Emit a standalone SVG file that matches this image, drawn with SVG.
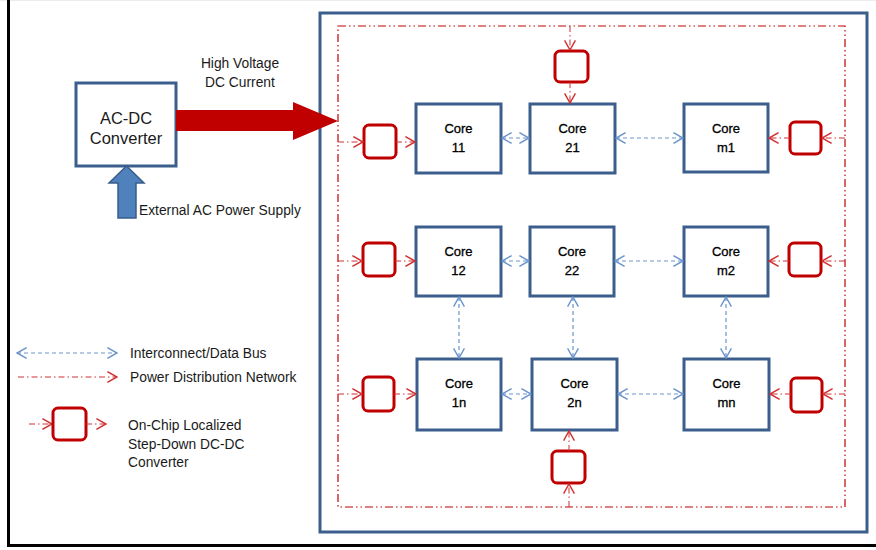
<svg xmlns="http://www.w3.org/2000/svg" width="876" height="550" viewBox="0 0 876 550">
  <defs>
    <style>
      text { font-family: "Liberation Sans", Arial, sans-serif; fill: #1a1a1a; }
      .core rect { fill: #fff; stroke: #3B5E8C; stroke-width: 3; }
      .core text { font-size: 13px; text-anchor: middle; fill: #000; stroke: #000; stroke-width: 0.3; }
      .conv { fill: #fff; stroke: #C00000; stroke-width: 3; }
      .pwr { fill: none; stroke: #C00000; stroke-width: 1.2; stroke-dasharray: 8 3 1.5 3 1.5 3; }
      .pwr-a { fill: none; stroke: #D03030; stroke-width: 1; stroke-dasharray: 6 3 1.5 3; marker-end: url(#redHead); }
      .bus { fill: none; stroke: #6A95CC; stroke-width: 1.2; stroke-dasharray: 4 3; marker-start: url(#blueHead); marker-end: url(#blueHead); }
      .lbl { font-size: 13.8px; }
    </style>
    <marker id="redHead" markerUnits="userSpaceOnUse" markerWidth="12" markerHeight="12" viewBox="0 0 10 10" refX="9" refY="5" orient="auto">
      <path d="M1,0.5 L9,5 L1,9.5" fill="none" stroke="#D03030" stroke-width="1.2"/>
    </marker>
    <marker id="blueHead" markerUnits="userSpaceOnUse" markerWidth="12" markerHeight="12" viewBox="0 0 10 10" refX="9" refY="5" orient="auto-start-reverse">
      <path d="M1,0.5 L9,5 L1,9.5" fill="none" stroke="#6A95CC" stroke-width="1.2"/>
    </marker>
  </defs>

  <rect width="876" height="550" fill="#fff"/>
  <line x1="0" y1="0.5" x2="876" y2="0.5" stroke="#ececec"/>
  <!-- page frame -->
  <path d="M8.5,0 V545.5 H876" fill="none" stroke="#000" stroke-width="3"/>

  <!-- chip outline -->
  <rect id="chip" x="320" y="13" width="547" height="519" fill="none" stroke="#3B5E8C" stroke-width="3"/>
  <!-- power distribution ring -->
  <rect id="ring" class="pwr" x="338" y="26" width="507" height="481"/>

  <!-- AC-DC converter -->
  <g id="acdc">
    <rect x="76" y="83" width="100" height="83" fill="#fff" stroke="#3B5E8C" stroke-width="3"/>
    <text x="126" y="124" font-size="16.5" text-anchor="middle">AC-DC</text>
    <text x="126" y="144" font-size="16.5" text-anchor="middle">Converter</text>
  </g>

  <!-- high-voltage feed -->
  <g id="hv-feed">
    <polygon points="176,110 293,110 293,102 338,121 293,140 293,131 176,131" fill="#C00000"/>
    <text class="lbl" x="240" y="68" text-anchor="middle">High Voltage</text>
    <text class="lbl" x="240" y="87" text-anchor="middle">DC Current</text>
  </g>

  <!-- external AC input -->
  <g id="ac-in">
    <polygon points="126.5,166 144,183 136,183 136,218 118,218 118,183 109,183" fill="#4F81BD" stroke="#385D8A" stroke-width="1.5"/>
    <text class="lbl" x="139" y="215">External AC Power Supply</text>
  </g>

  <!-- cores -->
  <g id="core11" class="core"><rect x="416" y="104" width="85" height="69"/><text x="458.5" y="133">Core</text><text x="458.5" y="152">11</text></g>
  <g id="core21" class="core"><rect x="530" y="104" width="85" height="69"/><text x="572.5" y="133">Core</text><text x="572.5" y="152">21</text></g>
  <g id="corem1" class="core"><rect x="684" y="104" width="84" height="68"/><text x="726" y="133">Core</text><text x="726" y="152">m1</text></g>
  <g id="core12" class="core"><rect x="416" y="227" width="85" height="69"/><text x="458.5" y="256">Core</text><text x="458.5" y="275">12</text></g>
  <g id="core22" class="core"><rect x="530" y="227" width="84" height="69"/><text x="572" y="256">Core</text><text x="572" y="275">22</text></g>
  <g id="corem2" class="core"><rect x="684" y="227" width="84" height="69"/><text x="726" y="256">Core</text><text x="726" y="275">m2</text></g>
  <g id="core1n" class="core"><rect x="417" y="359" width="84" height="71"/><text x="459" y="388">Core</text><text x="459" y="407">1n</text></g>
  <g id="core2n" class="core"><rect x="532" y="359" width="85" height="71"/><text x="574.5" y="388">Core</text><text x="574.5" y="407">2n</text></g>
  <g id="coremn" class="core"><rect x="684" y="359" width="85" height="71"/><text x="726.5" y="388">Core</text><text x="726.5" y="407">mn</text></g>

  <!-- local step-down converters -->
  <g id="conv-top"><rect class="conv" x="555" y="51" width="33" height="31" rx="5"/></g>
  <g id="conv-l1"><rect class="conv" x="364" y="125" width="32" height="33" rx="5"/></g>
  <g id="conv-l2"><rect class="conv" x="363" y="243" width="32" height="33" rx="5"/></g>
  <g id="conv-ln"><rect class="conv" x="363" y="377" width="31" height="34" rx="5"/></g>
  <g id="conv-r1"><rect class="conv" x="790" y="122" width="31" height="32" rx="5"/></g>
  <g id="conv-r2"><rect class="conv" x="789" y="243" width="32" height="33" rx="5"/></g>
  <g id="conv-rn"><rect class="conv" x="791" y="378" width="31" height="34" rx="5"/></g>
  <g id="conv-bottom"><rect class="conv" x="552" y="451" width="33" height="32" rx="5"/></g>

  <!-- connectors -->
  <g id="connectors">
    <path class="pwr-a" d="M338,142 H363"/>
    <path class="pwr-a" d="M396,142 H415"/>
    <path class="pwr-a" d="M338,261 H362"/>
    <path class="pwr-a" d="M395,261 H415"/>
    <path class="pwr-a" d="M338,394 H362"/>
    <path class="pwr-a" d="M394,394 H416"/>
    <path class="pwr-a" d="M845,138 H822"/>
    <path class="pwr-a" d="M790,138 H769"/>
    <path class="pwr-a" d="M845,261 H822"/>
    <path class="pwr-a" d="M789,261 H769"/>
    <path class="pwr-a" d="M845,394 H823"/>
    <path class="pwr-a" d="M791,394 H770"/>
    <path class="pwr-a" d="M570,26 V50"/>
    <path class="pwr-a" d="M570,82 V103"/>
    <path class="pwr-a" d="M569,507 V484"/>
    <path class="pwr-a" d="M569,451 V431"/>

    <path class="bus" d="M502,138 H529"/>
    <path class="bus" d="M616,138 H683"/>
    <path class="bus" d="M502,261 H529"/>
    <path class="bus" d="M615,261 H683"/>
    <path class="bus" d="M502,394 H531"/>
    <path class="bus" d="M618,394 H683"/>
    <path class="bus" d="M459,297 V358"/>
    <path class="bus" d="M573,297 V358"/>
    <path class="bus" d="M726,297 V358"/>
  </g>

  <!-- legend -->
  <g id="legend">
    <path class="bus" d="M17,353 H117"/>
    <text class="lbl" x="130" y="358">Interconnect/Data Bus</text>
    <path class="pwr-a" d="M18,377 H117"/>
    <text class="lbl" x="130" y="382">Power Distribution Network</text>
    <path class="pwr-a" d="M29,424 H52"/>
    <rect class="conv" x="53" y="408" width="33" height="32" rx="5"/>
    <path class="pwr-a" d="M86,424 H106"/>
    <text class="lbl" x="128" y="430">On-Chip Localized</text>
    <text class="lbl" x="128" y="449">Step-Down DC-DC</text>
    <text class="lbl" x="128" y="467">Converter</text>
  </g>
</svg>
